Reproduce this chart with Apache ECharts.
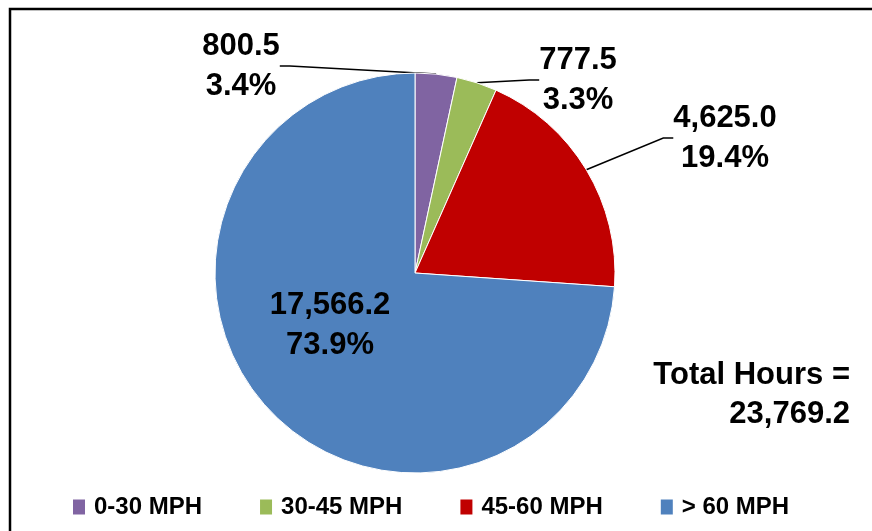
<!DOCTYPE html>
<html>
<head>
<meta charset="utf-8">
<script src="https://cdn.jsdelivr.net/npm/echarts@6/dist/echarts.min.js"></script>
<style>
  html, body { margin: 0; padding: 0; background: #fff; }
  #chart { width: 872px; height: 531px; }
</style>
</head>
<body>
<div id="chart"></div>
<script>
// 数据
var categories = ["0-30 MPH", "30-45 MPH", "45-60 MPH", "> 60 MPH"];
var hours = [800.5, 777.5, 4625.0, 17566.2];
var colors = ["#8064A2", "#9BBB59", "#C00000", "#4F81BD"];
// label centres (layout only)
var labelPos = [[241, 66], [578, 80], [725, 138], [330, 325]];

var totalHours = hours.reduce(function (a, b) { return a + b; }, 0);

function fmt(v) {
  return v.toLocaleString("en-US", { minimumFractionDigits: 1, maximumFractionDigits: 1 });
}

var FONT = "'Liberation Sans', Arial, sans-serif";

var myChart = echarts.init(document.getElementById("chart"));
myChart.setOption({
  animation: false,
  color: colors,
  legend: {
    bottom: 7,
    left: 66,
    itemWidth: 14,
    itemHeight: 17,
    itemGap: 56,
    icon: "rect",
    textStyle: {
      color: "#000",
      fontFamily: FONT,
      fontWeight: "bold",
      fontSize: 24,
      padding: [0, 0, 0, 3],
    },
    data: categories,
  },
  graphic: [
    {
      type: "rect",
      shape: { x: 10, y: 9, width: 900, height: 600 },
      style: { fill: "none", stroke: "#000", lineWidth: 2.5 },
      silent: true,
    },
    {
      type: "text",
      right: 22,
      top: 360,
      style: { text: "Total Hours =", fill: "#000", font: "bold 31px " + FONT },
    },
    {
      type: "text",
      right: 22,
      top: 399,
      style: { text: fmt(totalHours), fill: "#000", font: "bold 31px " + FONT },
    },
  ],
  series: [
    {
      name: "Hours",
      type: "pie",
      center: [415, 273],
      radius: 200,
      startAngle: 90,
      clockwise: true,
      percentPrecision: 1,
      itemStyle: { borderColor: "#fff", borderWidth: 1 },
      label: {
        show: true,
        position: "outside",
        formatter: function (p) {
          return fmt(p.value) + "\n" + p.percent.toFixed(1) + "%";
        },
        color: "#000",
        fontFamily: FONT,
        fontWeight: "bold",
        fontSize: 31,
        lineHeight: 40,
        align: "center",
      },
      labelLine: {
        show: true,
        length: 20,
        length2: 10,
        lineStyle: { color: "#000", width: 1.5 },
      },
      labelLayout: function (params) {
        var pos = labelPos[params.dataIndex];
        return { x: pos[0], y: pos[1], align: "center", verticalAlign: "middle" };
      },
      data: categories.map(function (name, i) {
        var item = { name: name, value: hours[i] };
        if (i === categories.length - 1) {
          item.label = { position: "inside" };
          item.labelLine = { show: false };
        }
        return item;
      }),
    },
  ],
});
</script>
</body>
</html>
